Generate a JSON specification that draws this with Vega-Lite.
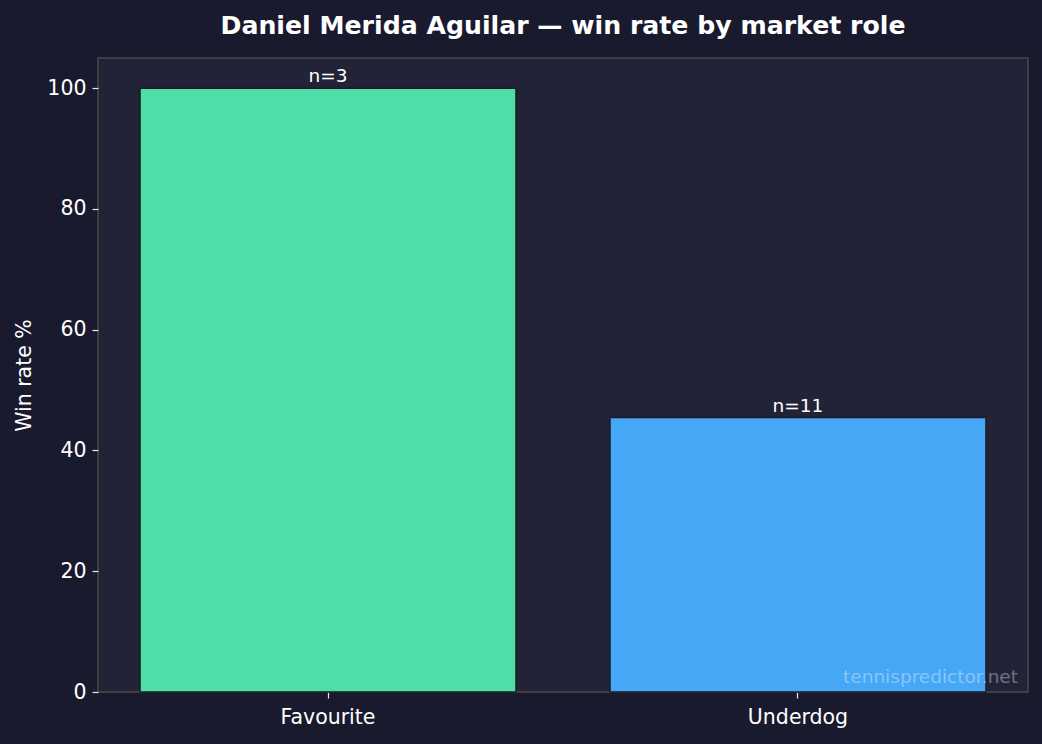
{
  "$schema": "https://vega.github.io/schema/vega-lite/v6.json",
  "autosize": {"type": "none"},
  "width": 930,
  "height": 634,
  "padding": {"left": 98, "top": 58, "right": 14, "bottom": 52},
  "background": "#1a1a2e",
  "title": {
    "text": "Daniel Merida Aguilar — win rate by market role",
    "font": "DejaVu Sans",
    "fontSize": 25.2,
    "fontWeight": "bold",
    "color": "#ffffff",
    "offset": 19
  },
  "config": {
    "font": "DejaVu Sans",
    "view": {"fill": "#232338", "stroke": "#4a4a4a", "strokeWidth": 1.5},
    "axis": {
      "domain": false,
      "grid": false,
      "tickColor": "#e8e8e8",
      "tickSize": 6,
      "tickWidth": 1.2,
      "labelColor": "#ffffff",
      "labelFontSize": 20.5,
      "titleColor": "#ffffff",
      "titleFontSize": 20.5,
      "titleFontWeight": "normal"
    }
  },
  "data": {
    "values": [
      {"role": "Favourite", "win_rate": 100, "n": 3},
      {"role": "Underdog", "win_rate": 45.45, "n": 11}
    ]
  },
  "layer": [
    {
      "mark": {"type": "bar", "stroke": "#1a1a2e", "strokeWidth": 1.5},
      "encoding": {
        "x": {
          "field": "role",
          "type": "nominal",
          "title": null,
          "sort": null,
          "scale": {"paddingInner": 0.2, "paddingOuter": 0.0894},
          "axis": {"labelAngle": 0, "labelPadding": 9}
        },
        "y": {
          "field": "win_rate",
          "type": "quantitative",
          "title": "Win rate %",
          "scale": {"domain": [0, 105], "nice": false},
          "axis": {"values": [0, 20, 40, 60, 80, 100], "labelPadding": 6, "titlePadding": 12}
        },
        "color": {
          "field": "role",
          "type": "nominal",
          "scale": {"domain": ["Favourite", "Underdog"], "range": ["#4fdea8", "#45a7f5"]},
          "legend": null
        }
      }
    },
    {
      "transform": [{"calculate": "'n=' + datum.n", "as": "label"}],
      "mark": {"type": "text", "baseline": "bottom", "dy": -2, "fontSize": 18.5, "color": "#ffffff"},
      "encoding": {
        "x": {"field": "role", "type": "nominal", "sort": null},
        "y": {"field": "win_rate", "type": "quantitative"},
        "text": {"field": "label", "type": "nominal"}
      }
    },
    {
      "data": {"values": [{"mark": "tennispredictor.net"}]},
      "mark": {"type": "text", "align": "right", "baseline": "alphabetic", "dx": -10, "dy": -9, "fontSize": 18.5, "color": "#ffffff", "opacity": 0.35},
      "encoding": {
        "x": {"value": "width"},
        "y": {"value": "height"},
        "text": {"field": "mark"}
      }
    }
  ]
}
